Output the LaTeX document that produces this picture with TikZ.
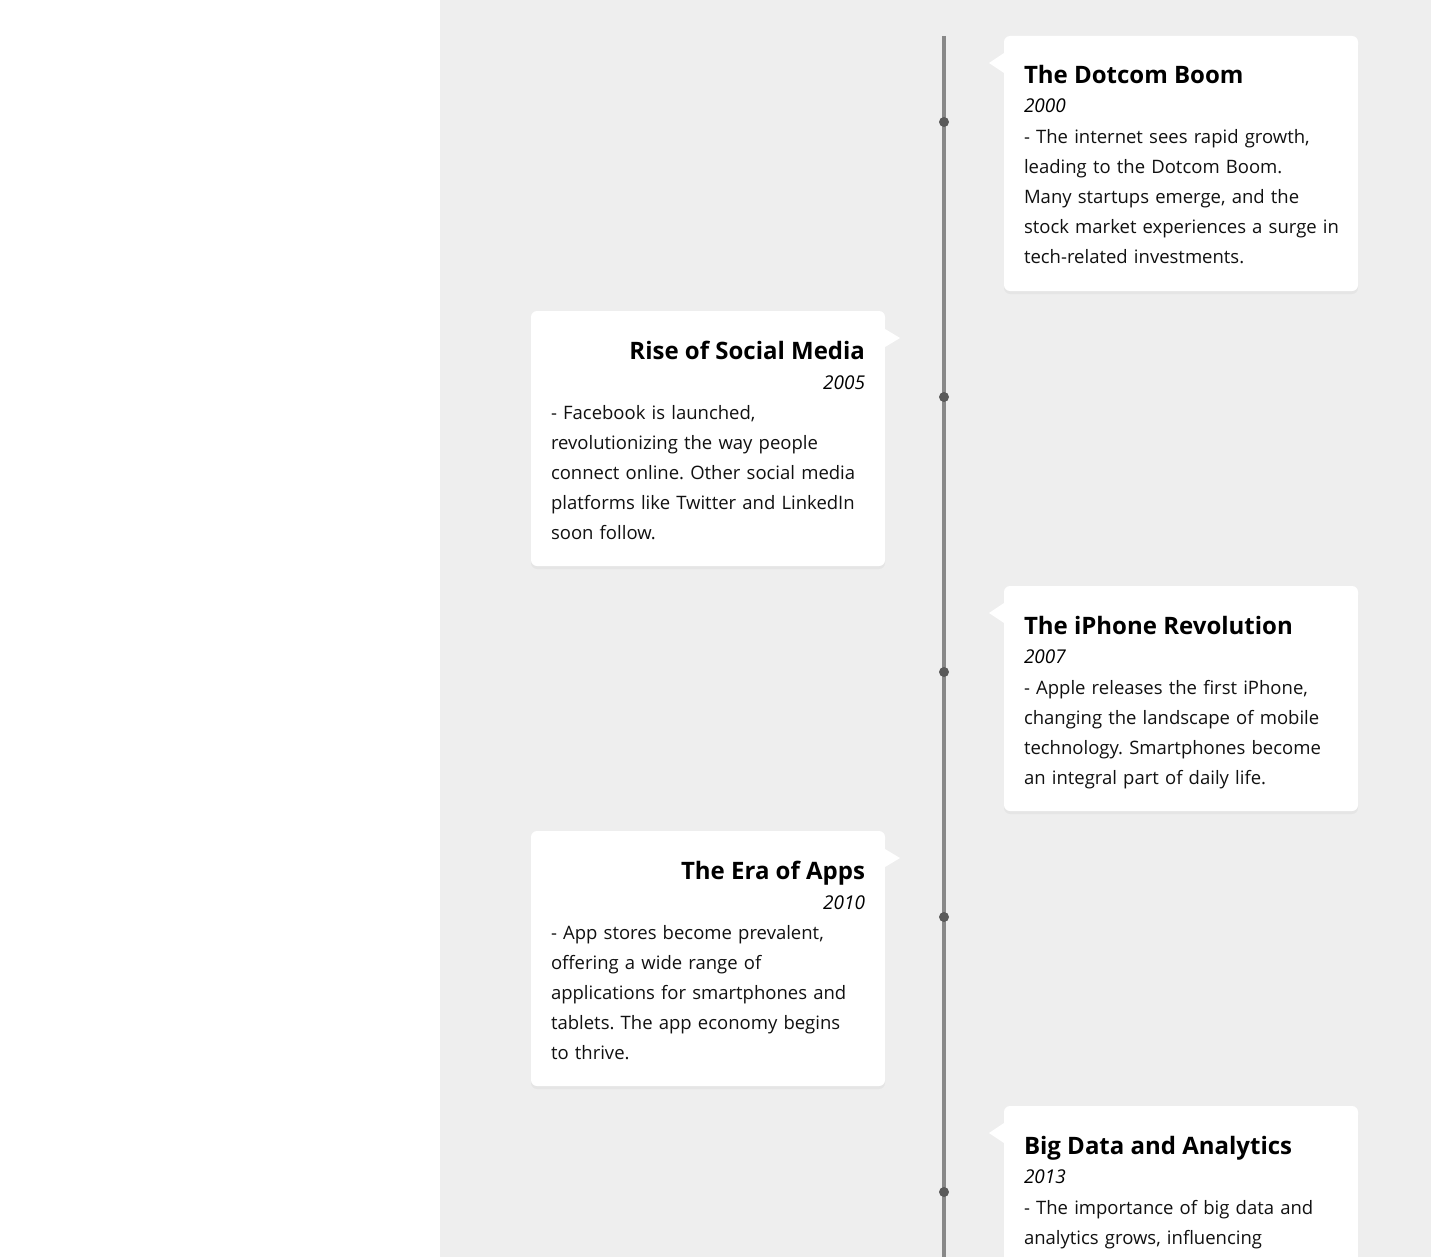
\documentclass[tikz,border=0pt]{standalone}
\usepackage{fontspec}
\setmainfont{Open Sans}
\usetikzlibrary{positioning, shadows}
\definecolor{pagegray}{HTML}{EEEEEE}
\definecolor{linegray}{HTML}{888888}
\definecolor{dotgray}{HTML}{5A5A5A}
\definecolor{bodytext}{HTML}{111111}
\frenchspacing
\begin{document}
\begin{tikzpicture}[x=1pt, y=-1pt, every node/.style={inner sep=0pt, outer sep=0pt}]
        \def\cardw{354}
        \tikzset{
            card/.style={fill=white, rounded corners=6pt, minimum width=\cardw, anchor=north west,
                drop shadow={shadow xshift=0pt, shadow yshift=-3pt, opacity=0.08}},
            cardtitle/.style={font=\fontsize{24}{28}\selectfont\bfseries},
            cardyear/.style={font=\fontsize{19}{24}\selectfont\itshape},
            cardbody/.style={font=\fontsize{18.5}{30}\selectfont, text=bodytext, align=left, text width=320},
            dot/.style={circle, fill=dotgray, minimum size=10}
        }
        \useasboundingbox (0,0) rectangle (1431,1257);
        \clip (0,0) rectangle (1431,1257);
        \fill[pagegray] (440,0) rectangle (1431,1257);
        \coordinate (linetop) at (944,36);
        \coordinate (linebot) at (944,1270);
        \draw[linegray, line width=4pt] (linetop) -- (linebot);
        \node[dot] (dot1) at (944,122) {};
        \node[dot] (dot2) at (944,397) {};
        \node[dot] (dot3) at (944,672) {};
        \node[dot] (dot4) at (944,917) {};
        \node[dot] (dot5) at (944,1192) {};
        \node[card, minimum height=255] (card1) at (1004,36) {};
        \node[card, minimum height=255] (card2) at (531,311) {};
        \node[card, minimum height=225] (card3) at (1004,586) {};
        \node[card, minimum height=255] (card4) at (531,831) {};
        \node[card, minimum height=300] (card5) at (1004,1106) {};
        \fill[white] ([yshift=-17pt]card1.north west) -- ++(-15,10) -- ++(15,10) -- cycle;
        \fill[white] ([yshift=-17pt]card3.north west) -- ++(-15,10) -- ++(15,10) -- cycle;
        \fill[white] ([yshift=-17pt]card5.north west) -- ++(-15,10) -- ++(15,10) -- cycle;
        \fill[white] ([yshift=-18pt]card2.north east) -- ++(15,9) -- ++(-15,9) -- cycle;
        \fill[white] ([yshift=-18pt]card4.north east) -- ++(15,9) -- ++(-15,9) -- cycle;
        \node[cardtitle, anchor=base west] (title1) at ([shift={(20,48)}]card1.north west) {The Dotcom Boom};
        \node[cardyear, anchor=base west] (year1) at ([yshift=-29pt]title1.base west) {2000};
        \node[cardbody, anchor=base west] (body1) at ([yshift=-31pt]year1.base west) {- The internet sees rapid growth,\\ leading to the Dotcom Boom.\\ Many startups emerge, and the\\ stock market experiences a surge in\\ tech-related investments.};
        \node[cardtitle, anchor=base east] (title2) at ([shift={(-20,48)}]card2.north east) {Rise of Social Media};
        \node[cardyear, anchor=base east] (year2) at ([yshift=-30pt]title2.base east) {2005};
        \node[cardbody, anchor=base west] (body2) at ([shift={(20,108)}]card2.north west) {- Facebook is launched,\\ revolutionizing the way people\\ connect online. Other social media\\ platforms like Twitter and LinkedIn\\ soon follow.};
        \node[cardtitle, anchor=base west] (title3) at ([shift={(20,48)}]card3.north west) {The iPhone Revolution};
        \node[cardyear, anchor=base west] (year3) at ([yshift=-29pt]title3.base west) {2007};
        \node[cardbody, anchor=base west] (body3) at ([yshift=-31pt]year3.base west) {- Apple releases the first iPhone,\\ changing the landscape of mobile\\ technology. Smartphones become\\ an integral part of daily life.};
        \node[cardtitle, anchor=base east] (title4) at ([shift={(-20,48)}]card4.north east) {The Era of Apps};
        \node[cardyear, anchor=base east] (year4) at ([yshift=-30pt]title4.base east) {2010};
        \node[cardbody, anchor=base west] (body4) at ([shift={(20,108)}]card4.north west) {- App stores become prevalent,\\ offering a wide range of\\ applications for smartphones and\\ tablets. The app economy begins\\ to thrive.};
        \node[cardtitle, anchor=base west] (title5) at ([shift={(20,48)}]card5.north west) {Big Data and Analytics};
        \node[cardyear, anchor=base west] (year5) at ([yshift=-29pt]title5.base west) {2013};
        \node[cardbody, anchor=base west] (body5) at ([yshift=-31pt]year5.base west) {- The importance of big data and\\ analytics grows, influencing};
    \end{tikzpicture}
\end{document}
